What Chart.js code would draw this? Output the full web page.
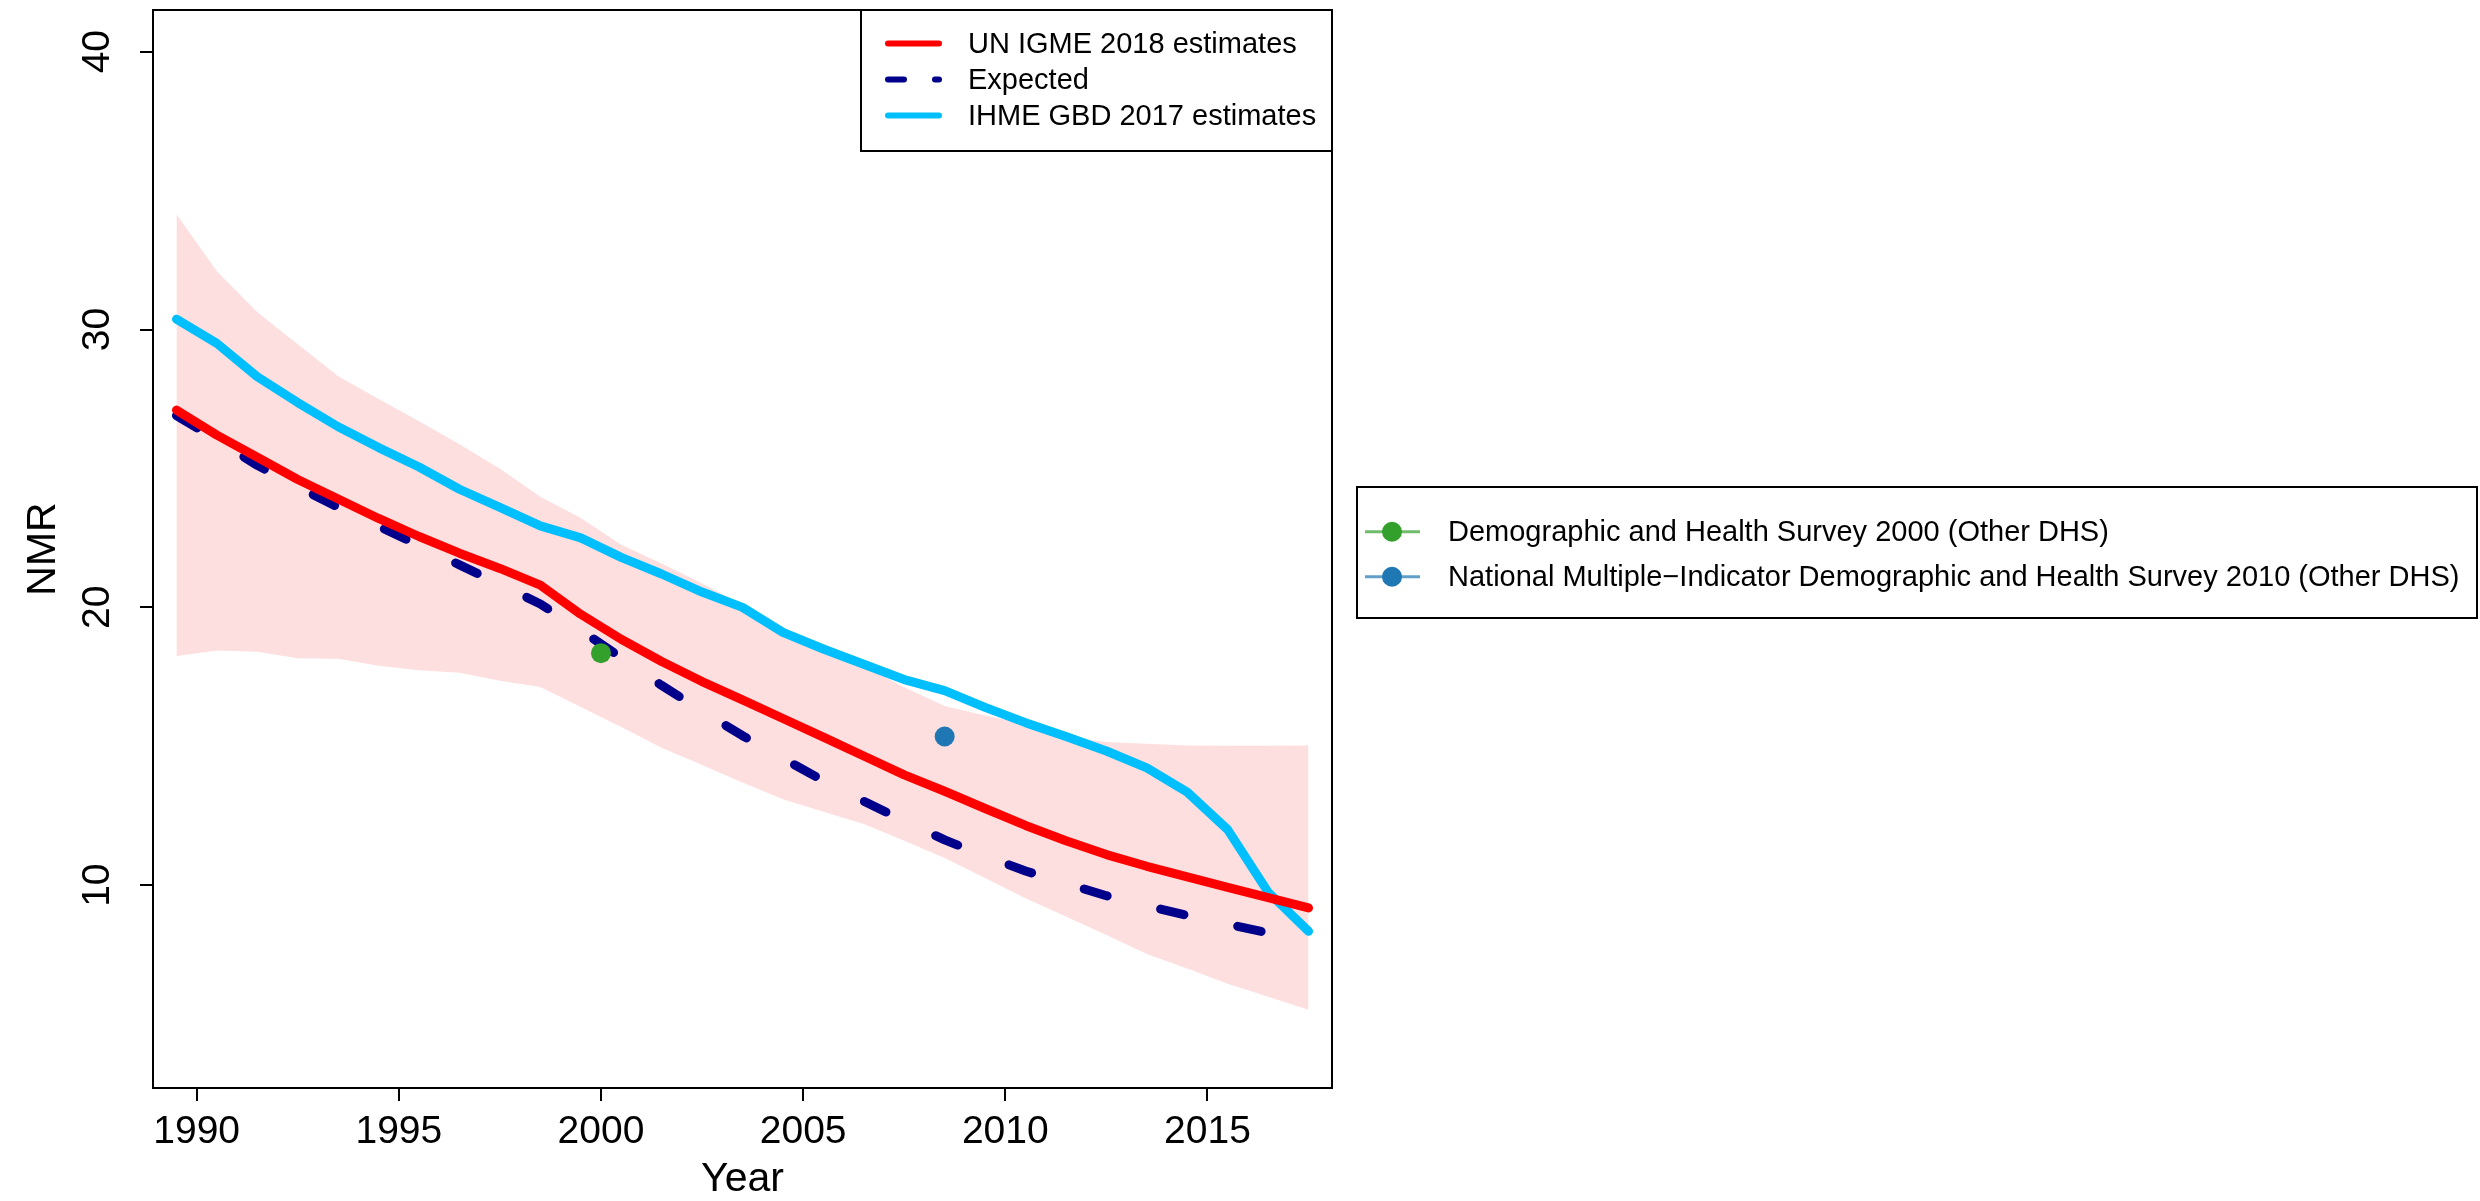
<!DOCTYPE html>
<html>
<head>
<meta charset="utf-8">
<script src="https://cdn.jsdelivr.net/npm/chart.js@4.4.0/dist/chart.umd.min.js"></script>
<style>
  html, body { margin: 0; padding: 0; background: #fff; }
  #nmrChart { display: block; }
</style>
</head>
<body>
<canvas id="nmrChart" width="2480" height="1201"></canvas>
<script>
// mid-year points
const years = [1989.5, 1990.5, 1991.5, 1992.5, 1993.5, 1994.5, 1995.5, 1996.5, 1997.5, 1998.5,
  1999.5, 2000.5, 2001.5, 2002.5, 2003.5, 2004.5, 2005.5, 2006.5, 2007.5, 2008.5,
  2009.5, 2010.5, 2011.5, 2012.5, 2013.5, 2014.5, 2015.5, 2016.5, 2017.5];

const igmeEstimates = [27.1, 26.2, 25.4, 24.6, 23.9, 23.2, 22.55, 21.95, 21.4, 20.8,
  19.75, 18.85, 18.05, 17.33, 16.67, 16.0, 15.33, 14.65, 13.97, 13.38,
  12.76, 12.15, 11.6, 11.1, 10.68, 10.3, 9.92, 9.55, 9.18];

const expected = [26.9, 26.03, 25.11, 24.34, 23.6, 22.92, 22.23, 21.53, 20.83, 20.12,
  19.17, 18.19, 17.19, 16.27, 15.38, 14.56, 13.76, 13.02, 12.31, 11.63,
  11.05, 10.51, 10.06, 9.62, 9.26, 8.91, 8.6, 8.28, 8.0];

const ihmeEstimates = [30.37, 29.5, 28.3, 27.37, 26.5, 25.75, 25.05, 24.25, 23.6, 22.93,
  22.5, 21.8, 21.2, 20.55, 20.0, 19.1, 18.5, 17.95, 17.4, 17.0,
  16.4, 15.85, 15.35, 14.83, 14.22, 13.35, 12.0, 9.75, 8.34];

const igmeLower = [18.25, 18.45, 18.4, 18.17, 18.15, 17.9, 17.74, 17.65, 17.36, 17.13,
  16.41, 15.69, 14.95, 14.33, 13.7, 13.09, 12.64, 12.2, 11.6, 10.98,
  10.26, 9.53, 8.87, 8.21, 7.52, 7.0, 6.45, 5.98, 5.52];

const igmeUpper = [34.15, 32.1, 30.62, 29.47, 28.32, 27.5, 26.7, 25.87, 24.99, 23.98,
  23.22, 22.25, 21.58, 20.86, 20.1, 19.29, 18.53, 17.89, 17.12, 16.45,
  16.11, 15.8, 15.33, 15.15, 15.09, 15.03, 15.02, 15.02, 15.03];

const surveyNames = ["Demographic and Health Survey 2000 (Other DHS)",
  "National Multiple\u2212Indicator Demographic and Health Survey 2010 (Other DHS)"];
const surveyYears = [2000.0, 2008.5];
const surveyValues = [18.35, 15.35];
const surveyColors = ["#33A02C", "#1F78B4"];

const xTicks = [1990, 1995, 2000, 2005, 2010, 2015];
const yTicks = [10, 20, 30, 40];

const FONT = '"Liberation Sans", Arial, Helvetica, sans-serif';

function toPoints(xs, ys) {
  return xs.map((x, i) => ({ x: x, y: ys[i] }));
}

const datasets = [
  {
    label: "UN IGME 2018 estimates",
    data: toPoints(years, igmeEstimates),
    borderColor: "#FF0000",
    borderWidth: 9,
    order: 1
  },
  {
    label: "Expected",
    data: toPoints(years, expected),
    borderColor: "#00008B",
    borderWidth: 9,
    borderDash: [24, 55],
    order: 2
  },
  {
    label: "IHME GBD 2017 estimates",
    data: toPoints(years, ihmeEstimates),
    borderColor: "#00BFFF",
    borderWidth: 9,
    order: 3
  },
  {
    label: "upper",
    data: toPoints(years, igmeUpper),
    borderWidth: 0,
    backgroundColor: "#FDDFDF",
    fill: "+1",
    order: 10
  },
  {
    label: "lower",
    data: toPoints(years, igmeLower),
    borderWidth: 0,
    fill: false,
    order: 11
  }
];

surveyNames.forEach((name, i) => {
  datasets.push({
    label: name,
    data: [{ x: surveyYears[i], y: surveyValues[i] }],
    showLine: false,
    pointRadius: 10,
    pointBackgroundColor: surveyColors[i],
    pointBorderWidth: 0,
    borderColor: surveyColors[i],
    order: 0
  });
});

// box, rotated y labels and the two R-style legends
const rDecorations = {
  id: "rDecorations",
  afterDraw(chart) {
    const ctx = chart.ctx;
    const area = chart.chartArea;
    const yScale = chart.scales.y;
    const ds = chart.data.datasets;
    ctx.save();

    ctx.strokeStyle = "#000";
    ctx.lineWidth = 2;
    ctx.strokeRect(area.left, area.top, area.right - area.left, area.bottom - area.top);

    ctx.fillStyle = "#000";
    ctx.font = "39px " + FONT;
    ctx.textAlign = "center";
    ctx.textBaseline = "alphabetic";
    yTicks.forEach(v => {
      ctx.save();
      ctx.translate(109, yScale.getPixelForValue(v));
      ctx.rotate(-Math.PI / 2);
      ctx.fillText(String(v), 0, 0);
      ctx.restore();
    });

    // legend for the lines
    ctx.fillStyle = "#fff";
    ctx.fillRect(861, area.top, area.right - 861, 141);
    ctx.strokeRect(861, area.top, area.right - 861, 141);
    ctx.font = "29px " + FONT;
    ctx.textAlign = "left";
    ctx.textBaseline = "middle";
    ctx.lineCap = "round";
    [0, 1, 2].forEach((idx, row) => {
      const y = 43.5 + row * 36;
      ctx.strokeStyle = ds[idx].borderColor;
      ctx.lineWidth = 6;
      ctx.setLineDash(ds[idx].borderDash ? [16, 31] : []);
      ctx.beginPath();
      ctx.moveTo(888, y);
      ctx.lineTo(939, y);
      ctx.stroke();
      ctx.setLineDash([]);
      ctx.fillStyle = "#000";
      ctx.fillText(ds[idx].label, 968, y + 1);
    });

    // legend for the surveys
    ctx.lineCap = "butt";
    ctx.strokeStyle = "#000";
    ctx.lineWidth = 2;
    ctx.fillStyle = "#fff";
    ctx.fillRect(1357, 487, 1120, 131);
    ctx.strokeRect(1357, 487, 1120, 131);
    surveyNames.forEach((name, i) => {
      const y = 531.7 + i * 45;
      ctx.globalAlpha = 0.7;
      ctx.strokeStyle = surveyColors[i];
      ctx.lineWidth = 3;
      ctx.beginPath();
      ctx.moveTo(1365, y);
      ctx.lineTo(1420, y);
      ctx.stroke();
      ctx.globalAlpha = 1;
      ctx.fillStyle = surveyColors[i];
      ctx.beginPath();
      ctx.arc(1392, y, 10, 0, Math.PI * 2);
      ctx.fill();
      ctx.fillStyle = "#000";
      ctx.fillText(name, 1448, y + 1);
    });

    ctx.restore();
  }
};

const ctx = document.getElementById("nmrChart").getContext("2d");
const nmrChart = new Chart(ctx, {
  type: "line",
  data: { datasets: datasets },
  options: {
    responsive: false,
    animation: false,
    devicePixelRatio: 1,
    layout: { padding: { top: 9, right: 1148, bottom: 0, left: 0 } },
    elements: {
      line: { tension: 0, borderCapStyle: "round", borderJoinStyle: "round" },
      point: { radius: 0, hoverRadius: 0 }
    },
    plugins: {
      legend: { display: false },
      tooltip: { enabled: false }
    },
    scales: {
      x: {
        type: "linear",
        min: 1988.92,
        max: 2018.08,
        afterBuildTicks: scale => { scale.ticks = xTicks.map(v => ({ value: v })); },
        afterFit: scale => { scale.height = 113; },
        grid: { drawOnChartArea: false, drawTicks: true, tickLength: 13, color: "#000", lineWidth: 2 },
        border: { display: false },
        ticks: {
          color: "#000",
          font: { family: FONT, size: 39 },
          padding: 8,
          maxRotation: 0,
          autoSkip: false,
          callback: v => String(v)
        },
        title: {
          display: true,
          text: "Year",
          color: "#000",
          font: { family: FONT, size: 41, lineHeight: 1.05 },
          padding: 0
        }
      },
      y: {
        type: "linear",
        min: 2.7,
        max: 41.5,
        afterBuildTicks: scale => { scale.ticks = yTicks.map(v => ({ value: v })); },
        afterFit: scale => { scale.width = 153; },
        grid: { drawOnChartArea: false, drawTicks: true, tickLength: 13, color: "#000", lineWidth: 2 },
        border: { display: false },
        ticks: { display: false },
        title: {
          display: true,
          text: "NMR",
          color: "#000",
          font: { family: FONT, size: 41, lineHeight: 2.15 },
          padding: 0
        }
      }
    }
  },
  plugins: [rDecorations]
});
</script>
</body>
</html>
